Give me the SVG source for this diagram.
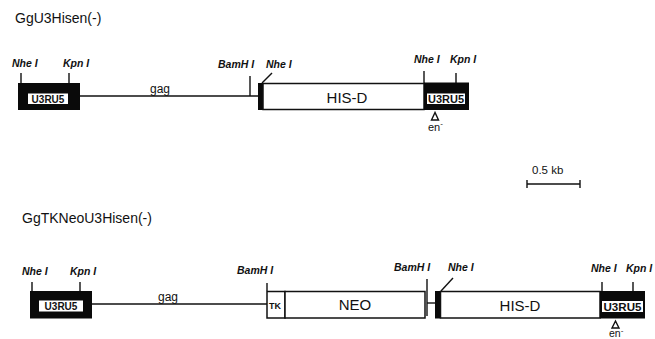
<svg xmlns="http://www.w3.org/2000/svg" width="655" height="339" viewBox="0 0 655 339">
<style>
.title{font-family:"Liberation Sans",Arial,sans-serif;font-size:14px;fill:#111}
.site{font-family:"Liberation Sans",Arial,sans-serif;font-size:10.5px;font-style:italic;font-weight:bold;fill:#111}
.ltr{fill:#0a0a0a}
.inner{fill:#fff}
.ltrtxt{font-family:"Liberation Sans",Arial,sans-serif;font-size:10px;font-weight:bold;fill:#111;text-anchor:middle}
.gene{fill:#fff;stroke:#111;stroke-width:1.5}
.genetxt{font-family:"Liberation Sans",Arial,sans-serif;font-size:15px;fill:#111;text-anchor:middle}
.small{font-family:"Liberation Sans",Arial,sans-serif;font-size:12px;fill:#111}
.ln{stroke:#111;stroke-width:1.4;fill:none}
.bar{fill:#0a0a0a}
</style>
<rect width="655" height="339" fill="#fff"/>

<g id="title1"><text class="title" x="15" y="23">GgU3Hisen(-)</text></g>
<g id="title2"><text class="title" x="22" y="223">GgTKNeoU3Hisen(-)</text></g>

<g id="connectors">
  <line class="ln" x1="80" y1="96" x2="258" y2="96"/>
  <line class="ln" x1="21" y1="73" x2="21" y2="83"/>
  <line class="ln" x1="69" y1="73" x2="69" y2="83"/>
  <line class="ln" x1="250" y1="76" x2="250" y2="96"/>
  <line class="ln" x1="262" y1="83" x2="272" y2="73"/>
  <line class="ln" x1="424" y1="71" x2="424" y2="83"/>
  <line class="ln" x1="456" y1="73" x2="456" y2="83"/>
  <line class="ln" x1="92" y1="304" x2="267" y2="304"/>
  <line class="ln" x1="32" y1="282" x2="32" y2="291"/>
  <line class="ln" x1="80" y1="282" x2="80" y2="291"/>
  <line class="ln" x1="267" y1="283" x2="267" y2="291"/>
  <line class="ln" x1="427" y1="279" x2="427" y2="316"/>
  <line class="ln" x1="427" y1="303" x2="435" y2="303"/>
  <line class="ln" x1="441" y1="291" x2="453" y2="278"/>
  <line class="ln" x1="602" y1="282" x2="602" y2="291"/>
  <line class="ln" x1="633" y1="282" x2="633" y2="291"/>
  <line class="ln" x1="527" y1="184" x2="580" y2="184"/>
  <line class="ln" x1="527" y1="180" x2="527" y2="188"/>
  <line class="ln" x1="580" y1="180" x2="580" y2="188"/>
</g>

<g id="ltr1L">
  <rect class="ltr" x="18" y="83" width="62" height="27"/>
  <rect class="inner" x="28" y="93.5" width="40" height="10.5"/>
  <text class="ltrtxt" x="48" y="103">U3RU5</text>
</g>
<g id="bar1"><rect class="bar" x="258" y="83" width="5.5" height="27"/></g>
<g id="hisd1">
  <rect class="gene" x="263" y="83.5" width="161" height="26"/>
  <text class="genetxt" x="347" y="103">HIS-D</text>
</g>
<g id="ltr1R">
  <rect class="ltr" x="424" y="82.5" width="45" height="27.5"/>
  <rect class="inner" x="427" y="93.5" width="38" height="10.5"/>
  <text class="ltrtxt" x="446" y="103" textLength="36" lengthAdjust="spacingAndGlyphs">U3RU5</text>
</g>
<g id="labels1">
  <text class="site" x="12" y="67">Nhe I</text>
  <text class="site" x="63" y="67">Kpn I</text>
  <text class="small" x="150" y="93">gag</text>
  <text class="site" x="218" y="68">BamH I</text>
  <text class="site" x="266" y="68">Nhe I</text>
  <text class="site" x="414" y="63">Nhe I</text>
  <text class="site" x="450" y="63">Kpn I</text>
</g>
<g id="en1">
  <path class="ln" d="M435,112.5 L431.5,120 L438.5,120 Z"/>
  <text class="small" x="428" y="131" style="font-size:11px">en<tspan dy="-5" style="font-size:8px">-</tspan></text>
</g>

<g id="scale"><text class="small" x="532" y="174" style="font-size:11.5px">0.5 kb</text></g>

<g id="ltr2L">
  <rect class="ltr" x="30" y="291" width="62" height="27.5"/>
  <rect class="inner" x="39" y="300.5" width="44" height="11"/>
  <text class="ltrtxt" x="61" y="310">U3RU5</text>
</g>
<g id="tk">
  <rect class="gene" x="267" y="291.5" width="18" height="26.5"/>
  <text class="ltrtxt" x="275" y="309" style="font-size:9px">TK</text>
</g>
<g id="neo">
  <rect class="gene" x="285" y="291.5" width="140" height="26.5"/>
  <text class="genetxt" x="355" y="310">NEO</text>
</g>
<g id="bar2"><rect class="bar" x="435" y="291" width="5.5" height="27.5"/></g>
<g id="hisd2">
  <rect class="gene" x="440.5" y="291.5" width="159.5" height="26.5"/>
  <text class="genetxt" x="520" y="311">HIS-D</text>
</g>
<g id="ltr2R">
  <rect class="ltr" x="600" y="291" width="45" height="27.5"/>
  <rect class="inner" x="602" y="301" width="41" height="11"/>
  <text class="ltrtxt" x="622.5" y="310.5" textLength="38" lengthAdjust="spacingAndGlyphs">U3RU5</text>
</g>
<g id="labels2">
  <text class="site" x="22" y="275">Nhe I</text>
  <text class="site" x="70" y="275">Kpn I</text>
  <text class="small" x="158" y="301">gag</text>
  <text class="site" x="237" y="274">BamH I</text>
  <text class="site" x="394" y="271">BamH I</text>
  <text class="site" x="448" y="271">Nhe I</text>
  <text class="site" x="591" y="272">Nhe I</text>
  <text class="site" x="626" y="272">Kpn I</text>
</g>
<g id="en2">
  <path class="ln" d="M615.5,321 L612,328 L619,328 Z"/>
  <text class="small" x="609" y="337" style="font-size:10.5px">en<tspan dy="-4" style="font-size:8px">-</tspan></text>
</g>
</svg>
